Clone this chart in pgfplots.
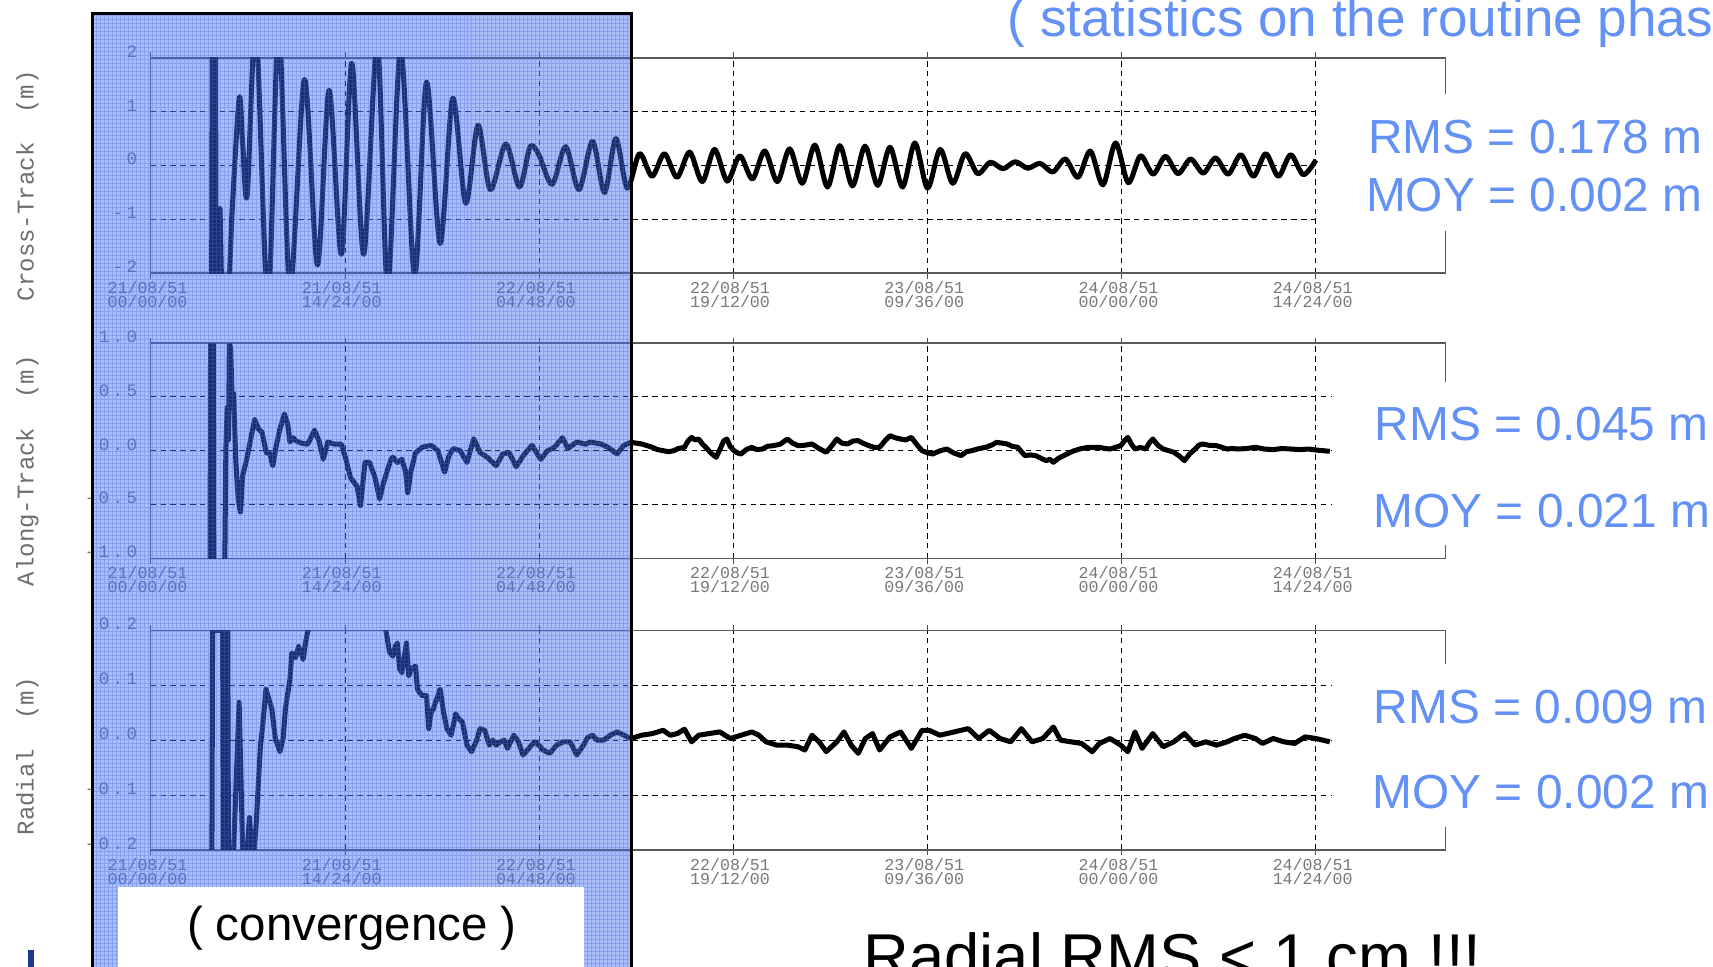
\documentclass[border=0pt]{standalone}
\usepackage{pgfplots}
\pgfplotsset{compat=1.18}
\usepackage{fontspec}
\setmainfont{Liberation Sans}
\setmonofont{Liberation Mono}
\definecolor{statblue}{RGB}{100,145,245}
\definecolor{convblue}{RGB}{65,109,239}
\definecolor{tickgray}{RGB}{120,120,120}
\definecolor{labgray}{RGB}{110,110,110}
\definecolor{framegray}{RGB}{90,90,90}
\definecolor{navy}{RGB}{25,55,140}
\newcommand\tk{\kern1.6pt}

\pgfplotsset{
  panel/.style={
    scale only axis, width=592.5pt, xmin=0, xmax=4,
    axis line style={draw=framegray, line width=0.6pt},
    xtick={0,0.6,1.2,1.8,2.4,3.0,3.6},
    xticklabels={{21/08/51\\00/00/00},{21/08/51\\14/24/00},{22/08/51\\04/48/00},
      {22/08/51\\19/12/00},{23/08/51\\09/36/00},{24/08/51\\00/00/00},{24/08/51\\14/24/00}},
    xticklabel style={font=\ttfamily\fontsize{7.6}{6.6}\selectfont, text=tickgray,
      align=center, anchor=north, inner sep=0pt, yshift=-1pt, xshift=-1.5pt},
    yticklabel style={font=\ttfamily\fontsize{8}{8}\selectfont, text=tickgray,
      anchor=south east, inner sep=0pt, xshift=-3.5pt},
    xmajorgrids, ymajorgrids,
    major grid style={black, line width=0.4pt, dash pattern=on 2.5pt off 2pt},
    tick align=outside, major tick length=2.5pt,
    xtick style={black!70, line width=0.4pt}, ytick style={draw=none},
    every axis plot/.append style={black, line width=2.3pt, line join=round},
  }
}

\begin{document}
\begin{tikzpicture}
\useasboundingbox (0pt,0pt) rectangle (784pt,442.5pt);
\clip (0pt,0pt) rectangle (784pt,442.5pt);
\fill[white] (0pt,0pt) rectangle (784pt,442.5pt);

% Cross-Track
\begin{axis}[panel, at={(69pt,317.5pt)}, anchor=south west, height=98.5pt,
  ymin=-2, ymax=2, ytick={-2,-1,0,1,2},
  yticklabels={-\tk2,-\tk1,0,1,2}]
\addplot[sharp plot] coordinates {
 (0.188,-2.6)(0.190,2.6)(0.200,2.6)(0.202,-2.6)(0.212,-2.6)(0.214,-0.8)
 (0.220,-2.6)(0.240,-2.6)(0.250,-1.0)
};
\addplot[smooth] coordinates {
 (0.250,-1.0)(0.273,1.25)(0.284,0.4)(0.298,-0.55)(0.325,2.6)(0.362,-2.6)
 (0.395,2.6)(0.430,-2.3)(0.475,1.6)(0.515,-1.85)(0.551,1.4)(0.589,-1.65)
 (0.621,1.9)(0.658,-1.65)(0.700,2.3)(0.732,-2.3)(0.772,2.2)(0.815,-2.05)
 (0.852,1.55)(0.894,-1.45)(0.933,1.25)(0.973,-0.7)(1.011,0.75)(1.049,-0.45)
 (1.097,0.40)(1.139,-0.40)(1.172,0.35)(1.199,0.20)(1.240,-0.35)(1.282,0.35)
 (1.323,-0.45)(1.365,0.45)(1.402,-0.50)(1.437,0.50)(1.472,-0.42)
 (1.510,0.22)(1.549,-0.20)(1.587,0.22)(1.626,-0.22)(1.665,0.25)(1.704,-0.30)
 (1.742,0.30)(1.781,-0.29)(1.820,0.18)(1.859,-0.25)(1.897,0.27)(1.936,-0.30)
 (1.974,0.31)(2.013,-0.33)(2.052,0.38)(2.091,-0.40)(2.129,0.37)(2.168,-0.38)
 (2.207,0.36)(2.246,-0.37)(2.284,0.34)(2.323,-0.40)(2.361,0.42)(2.400,-0.42)
 (2.439,0.30)(2.478,-0.33)(2.516,0.22)(2.555,-0.15)(2.594,0.06)(2.633,-0.06)
 (2.671,0.07)(2.710,-0.05)(2.748,0.04)(2.787,-0.12)(2.826,0.12)(2.865,-0.22)
 (2.903,0.27)(2.942,-0.36)(2.981,0.42)(3.020,-0.32)(3.058,0.18)(3.097,-0.16)
 (3.135,0.17)(3.174,-0.15)(3.213,0.12)(3.252,-0.14)(3.290,0.14)(3.329,-0.16)
 (3.368,0.20)(3.407,-0.20)(3.445,0.22)(3.484,-0.20)(3.522,0.20)(3.561,-0.17)
 (3.600,0.10)
};
\end{axis}

% Along-Track
\begin{axis}[panel, at={(69pt,187pt)}, anchor=south west, height=98.5pt,
  ymin=-1, ymax=1, ytick={-1,-0.5,0,0.5,1},
  yticklabels={-\tk1\tk.\tk0,-\tk0\tk.\tk5,0\tk.\tk0,0\tk.\tk5,1\tk.\tk0}]
\addplot[sharp plot] coordinates {
 (0.183,-1.3)(0.185,1.3)(0.193,1.3)(0.195,-1.3)(0.228,-1.3)(0.232,0.0)(0.236,0.4)
 (0.240,0.1)(0.243,1.0)(0.247,0.95)(0.252,0.4)(0.256,0.53)(0.263,-0.11)(0.270,-0.45)
 (0.277,-0.57)(0.284,-0.23)(0.295,-0.1)(0.305,0.05)(0.321,0.29)(0.333,0.20)(0.344,0.17)
 (0.357,-0.02)(0.367,-0.02)(0.377,-0.14)(0.388,0.05)(0.399,0.20)(0.413,0.34)(0.423,0.25)
 (0.430,0.08)(0.440,0.12)(0.450,0.09)(0.465,0.07)(0.485,0.06)(0.506,0.19)(0.520,0.09)
 (0.533,-0.08)(0.547,0.08)(0.568,0.06)(0.589,0.06)(0.603,-0.08)(0.617,-0.25)(0.637,-0.33)
 (0.648,-0.51)(0.662,-0.11)(0.676,-0.11)(0.693,-0.25)(0.707,-0.45)(0.720,-0.29)(0.741,-0.09)
 (0.748,-0.06)(0.762,-0.11)(0.776,-0.08)(0.787,-0.19)(0.794,-0.39)(0.804,-0.19)(0.818,-0.02)
 (0.838,0.03)(0.866,0.05)(0.887,0.0)(0.908,-0.20)(0.921,-0.05)(0.935,0.02)(0.956,0.0)
 (0.977,-0.11)(0.998,0.11)(1.018,-0.02)(1.039,-0.06)(1.067,-0.14)(1.088,-0.03)(1.108,-0.02)
 (1.129,-0.15)(1.150,-0.05)(1.178,0.05)(1.192,-0.02)(1.205,-0.08)(1.226,0.0)(1.247,0.03)
 (1.272,0.12)(1.289,0.02)(1.316,0.08)(1.344,0.06)(1.358,0.08)(1.393,0.06)(1.413,0.03)
 (1.441,-0.03)(1.462,0.05)(1.484,0.077)(1.500,0.07)(1.517,0.062)(1.530,0.05)(1.550,0.031)
 (1.565,0.01)(1.583,0.0)(1.600,-0.01)(1.616,0.0)(1.630,0.02)(1.649,0.031)(1.660,0.09)
 (1.671,0.123)(1.682,0.10)(1.693,0.108)(1.705,0.06)(1.715,0.031)(1.730,-0.02)(1.747,-0.062)
 (1.760,0.02)(1.770,0.09)(1.780,0.108)(1.790,0.04)(1.802,0.0)(1.812,-0.02)(1.824,-0.031)
 (1.840,0.01)(1.857,0.031)(1.872,0.01)(1.890,0.015)(1.905,0.04)(1.923,0.046)(1.945,0.06)
 (1.967,0.108)(1.983,0.07)(2.000,0.046)(2.020,0.05)(2.043,0.062)(2.065,0.02)(2.087,-0.015)
 (2.100,0.03)(2.120,0.108)(2.135,0.07)(2.153,0.062)(2.170,0.09)(2.186,0.093)(2.200,0.07)
 (2.219,0.046)(2.235,0.03)(2.252,0.031)(2.268,0.09)(2.284,0.139)(2.300,0.12)(2.317,0.108)
 (2.333,0.10)(2.350,0.123)(2.366,0.06)(2.383,0.0)(2.400,-0.02)(2.416,-0.031)(2.440,0.0)
 (2.460,0.015)(2.480,-0.02)(2.504,-0.046)(2.520,-0.01)(2.537,0.0)(2.560,0.02)(2.580,0.031)
 (2.597,0.05)(2.613,0.077)(2.630,0.07)(2.646,0.062)(2.662,0.04)(2.679,0.031)(2.690,-0.01)
 (2.701,-0.046)(2.718,-0.04)(2.734,-0.046)(2.750,-0.07)(2.767,-0.093)(2.778,-0.08)(2.789,-0.108)
 (2.805,-0.07)(2.821,-0.046)(2.838,-0.02)(2.854,0.0)(2.876,0.02)(2.898,0.031)(2.915,0.03)
 (2.931,0.031)(2.948,0.02)(2.964,0.015)(2.980,0.03)(2.997,0.046)(3.008,0.09)(3.019,0.123)
 (3.030,0.06)(3.041,0.015)(3.058,0.03)(3.074,0.015)(3.085,0.07)(3.096,0.108)(3.112,0.05)
 (3.128,0.015)(3.145,0.0)(3.161,-0.015)(3.178,-0.05)(3.194,-0.093)(3.210,-0.03)(3.227,0.015)
 (3.238,0.05)(3.249,0.062)(3.270,0.05)(3.293,0.046)(3.310,0.03)(3.326,0.015)(3.342,0.02)
 (3.359,0.015)(3.386,0.02)(3.414,0.031)(3.440,0.015)(3.468,0.009)(3.495,0.02)(3.523,0.015)
 (3.550,0.01)(3.578,0.015)(3.600,0.006)(3.620,0.0)(3.643,-0.006)
};
\end{axis}

% Radial
\begin{axis}[panel, at={(69pt,53.5pt)}, anchor=south west, height=100.5pt,
  ymin=-0.2, ymax=0.2, ytick={-0.2,-0.1,0,0.1,0.2},
  yticklabels={-\tk0\tk.\tk2,-\tk0\tk.\tk1,0\tk.\tk0,0\tk.\tk1,0\tk.\tk2}]
\addplot[sharp plot] coordinates {
 (0.189,-0.2)(0.191,0.2)(0.222,0.2)(0.224,-0.2)(0.228,-0.2)(0.230,0.2)(0.238,0.2)
 (0.240,-0.2)(0.256,-0.2)(0.273,0.069)(0.284,-0.2)(0.298,-0.2)(0.305,-0.141)(0.312,-0.2)
 (0.320,-0.2)(0.326,-0.15)(0.339,-0.009)(0.346,0.027)(0.356,0.093)(0.374,0.057)(0.385,0.003)
 (0.399,-0.021)(0.409,0.003)(0.416,0.057)(0.430,0.111)(0.436,0.159)(0.447,0.15)(0.457,0.171)
 (0.471,0.147)(0.478,0.177)(0.485,0.198)(0.55,0.3)(0.70,0.3)(0.727,0.198)(0.738,0.16)
 (0.748,0.153)(0.755,0.17)(0.762,0.177)(0.769,0.13)(0.776,0.123)(0.783,0.15)(0.790,0.177)
 (0.797,0.117)(0.805,0.13)(0.818,0.135)(0.824,0.093)(0.838,0.081)(0.852,0.081)(0.859,0.021)
 (0.866,0.05)(0.873,0.057)(0.894,0.093)(0.905,0.05)(0.915,0.021)(0.928,0.009)(0.942,0.048)
 (0.950,0.04)(0.963,0.033)(0.977,-0.009)(0.991,-0.021)(1.005,-0.003)(1.018,0.021)(1.032,0.018)
 (1.046,-0.009)(1.057,0.0)(1.067,-0.009)(1.081,-0.003)(1.092,0.0)(1.102,-0.015)(1.122,0.009)
 (1.136,-0.003)(1.150,-0.027)(1.164,-0.018)(1.185,-0.003)(1.199,-0.009)(1.212,-0.018)
 (1.233,-0.024)(1.254,-0.009)(1.275,-0.003)(1.296,-0.003)(1.316,-0.027)(1.337,-0.009)
 (1.350,0.005)(1.365,0.009)(1.379,0.0)(1.399,0.0)(1.420,0.009)(1.441,0.015)(1.462,0.009)
 (1.484,0.003)(1.517,0.009)(1.550,0.012)(1.583,0.018)(1.605,0.009)(1.627,0.012)(1.649,0.020)
 (1.671,-0.003)(1.693,0.009)(1.725,0.012)(1.758,0.015)(1.791,0.003)(1.824,0.009)(1.857,0.015)
 (1.879,0.009)(1.901,-0.003)(1.934,-0.009)(1.967,-0.009)(2.000,-0.012)(2.021,-0.018)
 (2.043,0.009)(2.065,-0.003)(2.087,-0.021)(2.120,-0.003)(2.142,0.015)(2.164,-0.009)
 (2.186,-0.024)(2.208,0.003)(2.230,0.012)(2.252,-0.018)(2.284,0.006)(2.317,0.015)
 (2.350,-0.015)(2.383,0.018)(2.405,0.018)(2.438,0.009)(2.482,0.015)(2.526,0.021)
 (2.558,0.003)(2.591,0.018)(2.624,0.003)(2.657,-0.003)(2.690,0.021)(2.723,-0.003)
 (2.756,0.003)(2.789,0.024)(2.811,0.0)(2.843,-0.003)(2.876,-0.006)(2.909,-0.021)
 (2.931,-0.006)(2.964,0.003)(2.997,-0.009)(3.019,-0.021)(3.041,0.015)(3.063,-0.015)
 (3.096,0.012)(3.128,-0.012)(3.161,-0.003)(3.194,0.012)(3.227,-0.009)(3.260,-0.003)
 (3.293,-0.009)(3.326,-0.003)(3.348,0.003)(3.380,0.009)(3.413,0.003)(3.435,-0.006)
 (3.468,0.003)(3.501,-0.003)(3.534,-0.006)(3.567,0.006)(3.600,0.003)(3.643,-0.003)
};
\end{axis}

\begin{scope}[x=0.5pt,y=0.5pt]
% white boxes behind the statistics
\fill[white] (1208,674) rectangle (1568,799);
\fill[white] (1219,386) rectangle (1568,535);
\fill[white] (1219,128) rectangle (1568,277);

% convergence overlay
\fill[convblue, opacity=0.44] (85,-20) rectangle (578,873);
\draw[convblue, opacity=0.35, line width=0.3pt, step=3.66] (85,-20) grid (578,873);
\draw[black, line width=1.3pt] (85,-20) rectangle (578,873);
\fill[white] (108,-20) rectangle (535,73);
\node[anchor=base, inner sep=0pt, font=\fontsize{21.7}{26}\selectfont] at (322,24) {( convergence )};

% axis titles
\begin{scope}[every node/.style={rotate=90, text=labgray, inner sep=0pt,
    font=\ttfamily\fontsize{11}{13}\selectfont}]
\node at (25,715) {Cross-Track~~(m)};
\node at (25,454) {Along-Track~~(m)};
\node at (25,193) {Radial~~(m)};
\end{scope}

% statistics texts
\begin{scope}[every node/.style={anchor=base west, inner sep=0pt, text=statblue,
    font=\fontsize{21.9}{26}\selectfont}]
\node at (1252,744.5) {RMS = 0.178 m};
\node at (1250,691.5) {MOY = 0.002 m};
\node at (1258,481.5) {RMS = 0.045 m};
\node at (1257,402.5) {MOY = 0.021 m};
\node at (1257,222.5) {RMS = 0.009 m};
\node at (1256,144.5) {MOY = 0.002 m};
\end{scope}
\node[anchor=base west, inner sep=0pt, text=statblue, font=\fontsize{24.3}{28}\selectfont]
  at (922,852) {( statistics on the routine phase )};
\node[anchor=base west, inner sep=0pt, font=\fontsize{29}{34}\selectfont]
  at (790,-11) {Radial RMS < 1 cm !!!};
\fill[navy] (26,-5) rectangle (31,15);
\end{scope}
\end{tikzpicture}
\end{document}
